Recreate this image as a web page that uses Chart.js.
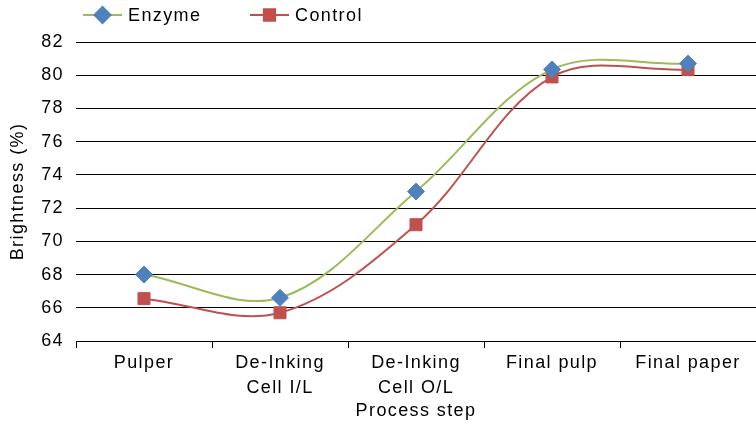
<!DOCTYPE html>
<html>
<head>
<meta charset="utf-8">
<script src="https://cdn.jsdelivr.net/npm/chart.js@4/dist/chart.umd.min.js"></script>
<style>
    html, body { margin: 0; padding: 0; background: #fff; }
    #wrap { width: 756px; height: 425px; }
</style>
</head>
<body>
<div id="wrap"><canvas id="brightChart" width="756" height="425"></canvas></div>
<script>
/* ---- DATA ---- */
const categories = ['Pulper', ['De-Inking', 'Cell I/L'], ['De-Inking', 'Cell O/L'], 'Final pulp', 'Final paper'];
const enzymeValues = [68.0, 66.6, 73.0, 80.35, 80.7];
const controlValues = [66.55, 65.7, 71.0, 79.9, 80.35];
const seriesNames = ['Enzyme', 'Control'];
const yMin = 64;
const yMax = 82;
const yStep = 2;

const FONT = '"Liberation Sans", Arial, sans-serif';
const FONT_SIZE = 18;
const GREEN = '#9BBB59';
const BLUE = '#4F81BD';
const RED = '#C0504D';

const canvas = document.getElementById('brightChart');

// the original text is set wide; a little tracking gets close to it.
// must be set after Chart.js has sized the canvas (that resets the context)
const textSpacing = {
    id: 'textSpacing',
    beforeUpdate(chart) { chart.ctx.letterSpacing = '1.4px'; },
    beforeDraw(chart) { chart.ctx.letterSpacing = '1.4px'; }
};

/* ---- LEGEND (line + marker, like the original) ---- */
const lineLegend = {
    id: 'lineLegend',
    afterDraw(chart) {
        const ctx = chart.ctx;
        const items = [
            { x: 83, ds: chart.data.datasets[0] },
            { x: 250, ds: chart.data.datasets[1] }
        ];
        const y = 15;
        ctx.save();
        items.forEach(item => {
            const ds = item.ds;
            ctx.strokeStyle = ds.borderColor;
            ctx.lineWidth = 2;
            ctx.beginPath();
            ctx.moveTo(item.x, y);
            ctx.lineTo(item.x + 39, y);
            ctx.stroke();
            ctx.fillStyle = ds.pointBackgroundColor;
            ctx.strokeStyle = ds.pointBorderColor;
            Chart.helpers.drawPoint(ctx, {
                pointStyle: ds.pointStyle,
                radius: ds.pointRadius - 0.5,
                borderWidth: 1,
                rotation: 0
            }, item.x + 19.5, y);
            ctx.fillStyle = '#000';
            ctx.font = FONT_SIZE + 'px ' + FONT;
            ctx.textBaseline = 'middle';
            ctx.textAlign = 'left';
            ctx.fillText(ds.label, item.x + 45, y + 1);
        });
        ctx.restore();
    }
};

/* ---- CHART ---- */
new Chart(canvas, {
    type: 'line',
    data: {
        labels: categories,
        datasets: [
            {
                label: seriesNames[0],
                data: enzymeValues,
                borderColor: GREEN,
                borderWidth: 2,
                pointStyle: 'rectRot',
                pointRadius: 8.5,
                pointBackgroundColor: BLUE,
                pointBorderColor: BLUE,
                pointBorderWidth: 1,
                tension: 0.35,
                fill: false
            },
            {
                label: seriesNames[1],
                data: controlValues,
                borderColor: RED,
                borderWidth: 2,
                pointStyle: 'rect',
                pointRadius: 8.5,
                pointBackgroundColor: RED,
                pointBorderColor: RED,
                pointBorderWidth: 1,
                tension: 0.35,
                fill: false
            }
        ]
    },
    options: {
        responsive: false,
        animation: false,
        layout: { autoPadding: false, padding: { top: 42, right: 0, left: 0, bottom: 0 } },
        plugins: {
            legend: { display: false },
            tooltip: { enabled: false }
        },
        scales: {
            x: {
                offset: true,
                grid: {
                    offset: true,
                    drawOnChartArea: false,
                    drawTicks: true,
                    tickLength: 7,
                    color: '#000',
                    lineWidth: 1
                },
                border: { color: '#000', width: 1 },
                ticks: {
                    color: '#000',
                    padding: 3,
                    maxRotation: 0,
                    autoSkip: false,
                    font: { family: FONT, size: FONT_SIZE, lineHeight: 1.39 }
                },
                title: {
                    display: true,
                    text: 'Process step',
                    color: '#000',
                    padding: { top: 0, bottom: 3 },
                    font: { family: FONT, size: FONT_SIZE, lineHeight: 1.2 }
                },
                afterFit(scale) { scale.height = 84; }
            },
            y: {
                min: yMin,
                max: yMax,
                grid: {
                    drawTicks: false,
                    color: '#000',
                    lineWidth: 1
                },
                border: { display: false },
                ticks: {
                    stepSize: yStep,
                    color: '#000',
                    padding: 12,
                    font: { family: FONT, size: FONT_SIZE }
                },
                title: {
                    display: true,
                    text: 'Brightness (%)',
                    color: '#000',
                    padding: { top: 7, bottom: 0 },
                    font: { family: FONT, size: FONT_SIZE, lineHeight: 1.2 }
                },
                afterFit(scale) { scale.width = 76; }
            }
        }
    },
    plugins: [textSpacing, lineLegend]
});
</script>
</body>
</html>
